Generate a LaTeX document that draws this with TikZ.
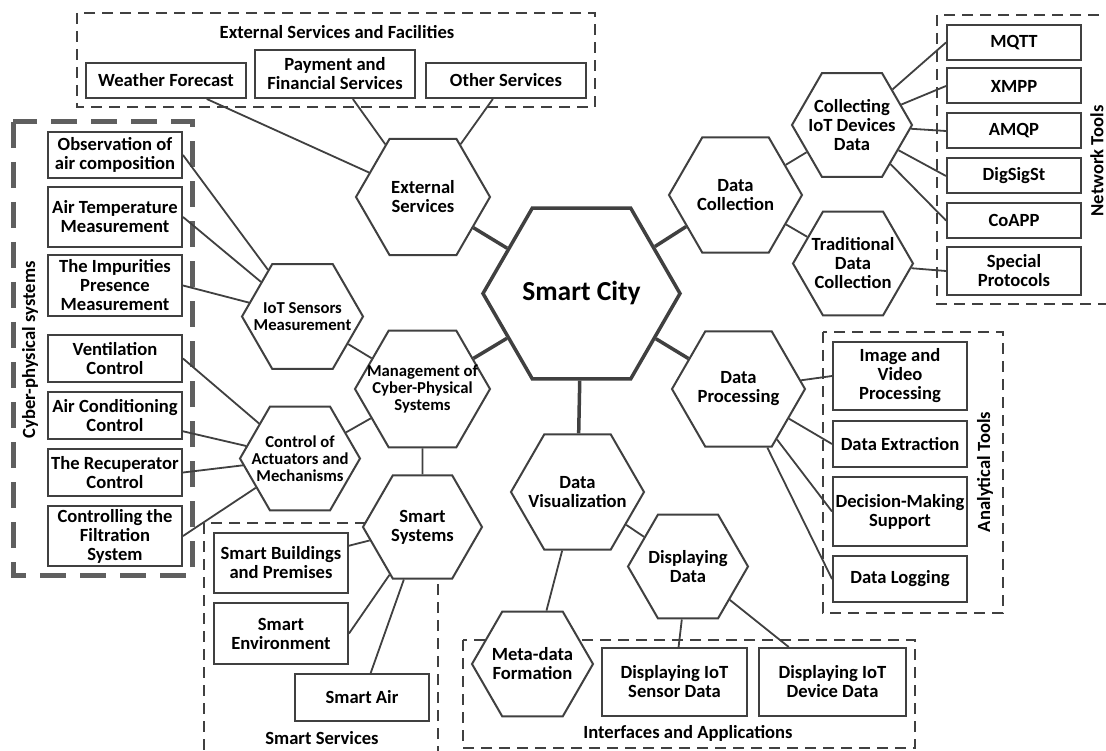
\documentclass[tikz,border=0pt]{standalone}
\usepackage{fontspec}
\setmainfont{Carlito}
\usetikzlibrary{shapes.geometric}
\definecolor{ln}{RGB}{64,64,64}
\definecolor{thk}{RGB}{95,95,95}
\newcommand{\boxfont}{\fontsize{18.6pt}{19pt}\selectfont\bfseries}
\newcommand{\smallhexfont}{\fontsize{16.7pt}{17pt}\selectfont\bfseries}
\begin{document}
\begin{tikzpicture}[x=1pt,y=-1pt,
  hexa/.style={regular polygon, regular polygon sides=6, draw=ln, line width=2pt, fill=white, inner sep=-45pt, align=center, font=\boxfont},
  boxn/.style={rectangle, draw=ln, line width=2pt, fill=white, inner sep=0pt, align=center, font=\boxfont, minimum width=134pt},
  frame/.style={draw=ln, line width=2pt, dash pattern=on 11pt off 7pt},
  thickframe/.style={draw=thk, line width=5pt, dash pattern=on 26pt off 14pt},
  conn/.style={draw=ln, line width=1.8pt},
  mainconn/.style={draw=ln, line width=3.5pt},
  ttl/.style={font=\boxfont, inner sep=0pt}]
\useasboundingbox (0,0) rectangle (1106,751);
\fill[white] (0,0) rectangle (1106,751);

% frames
\draw[frame] (77,13) rectangle (595,107);
\draw[thickframe] (13,122) rectangle (192,575);
\draw[frame] (937,15) rectangle (1125,304);
\draw[frame] (823,332) rectangle (1003,613);
\draw[frame] (204,523) rectangle (438,775);
\draw[frame] (463,640) rectangle (915,748);

% frame titles
\node[ttl] (tef) at (337,32) {External Services and Facilities};
\node[ttl, rotate=90] (tcps) at (30,350) {Cyber-physical systems};
\node[ttl, rotate=90] (tnt) at (1097,161) {Network Tools};
\node[ttl, rotate=90] (tat) at (985,472) {Analytical Tools};
\node[ttl] (tss) at (322,738) {Smart Services};
\node[ttl] (tia) at (688,733) {Interfaces and Applications};

% hexagons
\node[hexa, minimum size=197pt, line width=3.5pt, font=\fontsize{27.5pt}{28pt}\selectfont\bfseries] (sc) at (581.5,293.5) {Smart City};
\node[hexa, minimum size=134pt] (es) at (423,197) {External\\Services};
\node[hexa, minimum size=133pt] (dc) at (735.5,195) {Data\\Collection};
\node[hexa, minimum size=120pt] (ci) at (852,125) {Collecting\\IoT Devices\\Data};
\node[hexa, minimum size=120pt] (tr) at (853,263.5) {Traditional\\Data\\Collection};
\node[hexa, minimum size=121pt, font=\smallhexfont] (iot) at (302.5,316.5) {IoT Sensors\\Measurement};
\node[hexa, minimum size=135pt, font=\smallhexfont] (mg) at (422.5,389) {Management of\\Cyber-Physical\\Systems};
\node[hexa, minimum size=120pt, font=\smallhexfont] (ca) at (300,458.5) {Control of\\Actuators and\\Mechanisms};
\node[hexa, minimum size=119pt] (ss) at (422.5,527) {Smart\\Systems};
\node[hexa, minimum size=133pt] (dp) at (738.5,389) {Data\\Processing};
\node[hexa, minimum size=133pt] (dv) at (577.5,492) {Data\\Visualization};
\node[hexa, minimum size=120pt] (dd) at (688,566.5) {Displaying\\Data};
\node[hexa, minimum size=121pt] (md) at (532.5,664) {Meta-data\\Formation};

% boxes: external services
\node[boxn, minimum width=160pt, minimum height=35pt] (wf) at (166,80.5) {Weather Forecast};
\node[boxn, minimum width=160pt, minimum height=48pt] (pay) at (335,74) {Payment and\\Financial Services};
\node[boxn, minimum width=160pt, minimum height=35pt] (oth) at (506,80.5) {Other Services};
% cyber-physical
\node[boxn, minimum height=46pt] (obs) at (115,155) {Observation of\\air composition};
\node[boxn, minimum height=60pt] (tmp) at (115,217) {Air Temperature\\Measurement};
\node[boxn, minimum height=61pt] (imp) at (115,285.5) {The Impurities\\Presence\\Measurement};
\node[boxn, minimum height=47pt] (ven) at (115,358.5) {Ventilation\\Control};
\node[boxn, minimum height=47pt] (acc) at (115,415.5) {Air Conditioning\\Control};
\node[boxn, minimum height=47pt] (rec) at (115,472.5) {The Recuperator\\Control};
\node[boxn, minimum height=60pt] (fil) at (115,536) {Controlling the\\Filtration\\System};
% network tools
\node[boxn, minimum height=35pt] (mqtt) at (1014,42.5) {MQTT};
\node[boxn, minimum height=35pt] (xmpp) at (1014,86) {XMPP};
\node[boxn, minimum height=35pt] (amqp) at (1014,131) {AMQP};
\node[boxn, minimum height=35pt] (dss) at (1014,176) {DigSigSt};
\node[boxn, minimum height=35pt] (coap) at (1014,220.5) {CoAPP};
\node[boxn, minimum height=48pt] (spec) at (1014,271) {Special\\Protocols};
% analytical tools
\node[boxn, minimum height=68pt] (img) at (900,376) {Image and\\Video\\Processing};
\node[boxn, minimum height=46pt] (dex) at (900,444) {Data Extraction};
\node[boxn, minimum height=69pt] (dms) at (900,511.5) {Decision-Making\\Support};
\node[boxn, minimum height=46pt] (dlg) at (900,579) {Data Logging};
% smart services
\node[boxn, minimum height=60pt] (sb) at (281,563) {Smart Buildings\\and Premises};
\node[boxn, minimum height=61pt] (se) at (281,633.5) {Smart\\Environment};
\node[boxn, minimum height=47pt] (sa) at (362,697.5) {Smart Air};
% interfaces
\node[boxn, minimum width=145pt, minimum height=68pt] (dis) at (674.5,682) {Displaying IoT\\Sensor Data};
\node[boxn, minimum width=147pt, minimum height=68pt] (did) at (832.5,682) {Displaying IoT\\Device Data};

% main connectors
\draw[mainconn] (sc) -- (es);
\draw[mainconn] (sc) -- (dc);
\draw[mainconn] (sc) -- (mg);
\draw[mainconn] (sc) -- (dp);
\draw[mainconn] (sc) -- (dv);

% other connectors
\draw[conn] (es) -- (wf);
\draw[conn] (es) -- (pay);
\draw[conn] (es) -- (oth);
\draw[conn] (dc) -- (ci);
\draw[conn] (dc) -- (tr);
\draw[conn] (ci) -- (mqtt.west);
\draw[conn] (ci) -- (xmpp.west);
\draw[conn] (ci) -- (amqp.west);
\draw[conn] (ci) -- (dss.west);
\draw[conn] (ci) -- (coap.west);
\draw[conn] (tr) -- (spec.west);
\draw[conn] (dp) -- (img.west);
\draw[conn] (dp) -- (dex.west);
\draw[conn] (dp) -- (dms.west);
\draw[conn] (dp) -- (dlg.west);
\draw[conn] (dv) -- (dd);
\draw[conn] (dv) -- (md);
\draw[conn] (dd) -- (dis);
\draw[conn] (dd) -- (did);
\draw[conn] (mg) -- (iot);
\draw[conn] (mg) -- (ca);
\draw[conn] (mg) -- (ss);
\draw[conn] (iot) -- (obs.east);
\draw[conn] (iot) -- (tmp.east);
\draw[conn] (iot) -- (imp.east);
\draw[conn] (ca) -- (ven.east);
\draw[conn] (ca) -- (acc);
\draw[conn] (ca) -- (rec.east);
\draw[conn] (ca) -- (fil.east);
\draw[conn] (ss) -- (sb);
\draw[conn] (ss) -- (se.east);
\draw[conn] (ss) -- (sa);
\end{tikzpicture}
\end{document}
